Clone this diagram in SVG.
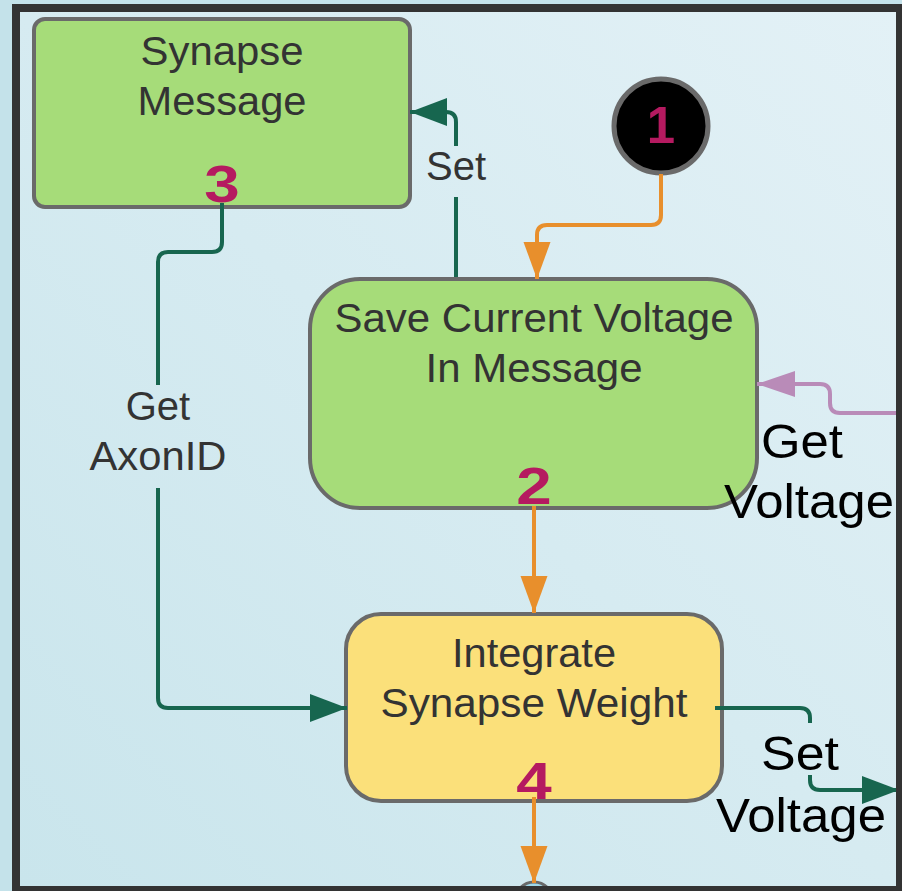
<svg xmlns="http://www.w3.org/2000/svg" width="902" height="891" viewBox="0 0 902 891">
<style>
.node-text{font-family:"Liberation Sans",Arial,sans-serif;font-size:41px;fill:#333;text-anchor:middle}
.lbl{font-family:"Liberation Sans",Arial,sans-serif;font-size:40px;fill:#333;text-anchor:middle}
.lbl-big{font-family:"Liberation Sans",Arial,sans-serif;font-size:49px;fill:#000;text-anchor:middle}
.num{font-family:"Liberation Sans",Arial,sans-serif;font-size:51px;font-weight:bold;fill:#b51a60;text-anchor:middle}
.box{stroke:#6a6a6a;stroke-width:4}
.green{fill:#a6dc79}
.yellow{fill:#fbe07a}
.c-green{fill:none;stroke:#17664f;stroke-width:4}
.c-orange{fill:none;stroke:#e88f2c;stroke-width:4}
.c-purple{fill:none;stroke:#b98bb8;stroke-width:4}
</style>
<defs>
<linearGradient id="bg" x1="0" y1="1" x2="1" y2="0">
<stop offset="0" stop-color="#c9e5ec"/>
<stop offset="1" stop-color="#e3f1f6"/>
</linearGradient>
<marker id="ah-green" markerUnits="userSpaceOnUse" markerWidth="37" markerHeight="28" refX="37" refY="14" orient="auto">
<path d="M0,0 L37,14 L0,28 z" fill="#17664f"/>
</marker>
<marker id="ah-orange" markerUnits="userSpaceOnUse" markerWidth="37" markerHeight="28" refX="37" refY="14" orient="auto">
<path d="M0,0.5 L37,14 L0,27.5 z" fill="#e88f2c"/>
</marker>
<marker id="ah-purple" markerUnits="userSpaceOnUse" markerWidth="38" markerHeight="26" refX="38" refY="13" orient="auto">
<path d="M0,0 L38,13 L0,26 z" fill="#b98bb8"/>
</marker>
</defs>
<rect x="0" y="0" width="902" height="891" fill="#c4e2ea"/>
<rect x="20" y="12" width="878" height="876" fill="url(#bg)"/>

<g id="node-synapse-message">
<rect class="box green" x="34" y="19" width="376" height="188" rx="11"/>
<text class="node-text" x="222" y="65" textLength="163" lengthAdjust="spacingAndGlyphs">Synapse</text>
<text class="node-text" x="222" y="115" textLength="169" lengthAdjust="spacingAndGlyphs">Message</text>
<text class="num" transform="translate(222,202) scale(1.25,1)">3</text>
</g>

<g id="node-start">
<circle cx="661" cy="126" r="47" fill="#000" stroke="#6a6a6a" stroke-width="5"/>
<text class="num" x="661" y="143" font-size="52">1</text>
</g>

<g id="node-save-voltage">
<rect class="box green" x="310" y="279" width="447" height="229" rx="50"/>
<text class="node-text" x="534" y="332" textLength="399" lengthAdjust="spacingAndGlyphs">Save Current Voltage</text>
<text class="node-text" x="534" y="382" textLength="217" lengthAdjust="spacingAndGlyphs">In Message</text>
<text class="num" transform="translate(534,504) scale(1.25,1)">2</text>
</g>

<g id="node-integrate">
<rect class="box yellow" x="346" y="614" width="376" height="187" rx="35"/>
<text class="node-text" x="534" y="667" textLength="164" lengthAdjust="spacingAndGlyphs">Integrate</text>
<text class="node-text" x="534" y="717" textLength="307" lengthAdjust="spacingAndGlyphs">Synapse Weight</text>
<text class="num" transform="translate(534,799) scale(1.25,1)">4</text>
</g>

<g id="node-next">
<circle cx="534" cy="901" r="19" fill="#9fd8ea" stroke="#6a6a6a" stroke-width="3"/>
</g>

<g id="connectors">
<path class="c-orange" d="M661,174 V215 Q661,225 651,225 H547 Q537,225 537,235 V279" marker-end="url(#ah-orange)"/>
<path class="c-green" d="M456,277 V197"/>
<path class="c-green" d="M456,146 V122 Q456,112 446,112 H410" marker-end="url(#ah-green)"/>
<path class="c-green" d="M222,203 V242 Q222,252 212,252 H168 Q158,252 158,262 V385"/>
<path class="c-green" d="M158,488 V698 Q158,708 168,708 H347" marker-end="url(#ah-green)"/>
<path class="c-orange" d="M534,506 V613" marker-end="url(#ah-orange)"/>
<path class="c-orange" d="M534,797 V883" marker-end="url(#ah-orange)"/>
<path class="c-green" d="M715,708 H800 Q810,708 810,718 V723"/>
<path class="c-green" d="M810,775 V780 Q810,790 820,790 H899" marker-end="url(#ah-green)"/>
<path class="c-purple" d="M902,413 H840 Q830,413 830,403 V394 Q830,384 820,384 H757" marker-end="url(#ah-purple)"/>
<text class="lbl" x="456" y="180">Set</text>
<text class="lbl" x="158" y="420">Get</text>
<text class="lbl" x="158" y="470" textLength="137" lengthAdjust="spacingAndGlyphs">AxonID</text>
<text class="lbl-big" x="802" y="458" textLength="82" lengthAdjust="spacingAndGlyphs">Get</text>
<text class="lbl-big" x="809" y="518" textLength="170" lengthAdjust="spacingAndGlyphs">Voltage</text>
<text class="lbl-big" x="800" y="770" textLength="78" lengthAdjust="spacingAndGlyphs">Set</text>
<text class="lbl-big" x="801" y="832" textLength="170" lengthAdjust="spacingAndGlyphs">Voltage</text>
</g>

<rect x="16" y="8" width="884" height="882" fill="none" stroke="#333" stroke-width="8"/>
</svg>
